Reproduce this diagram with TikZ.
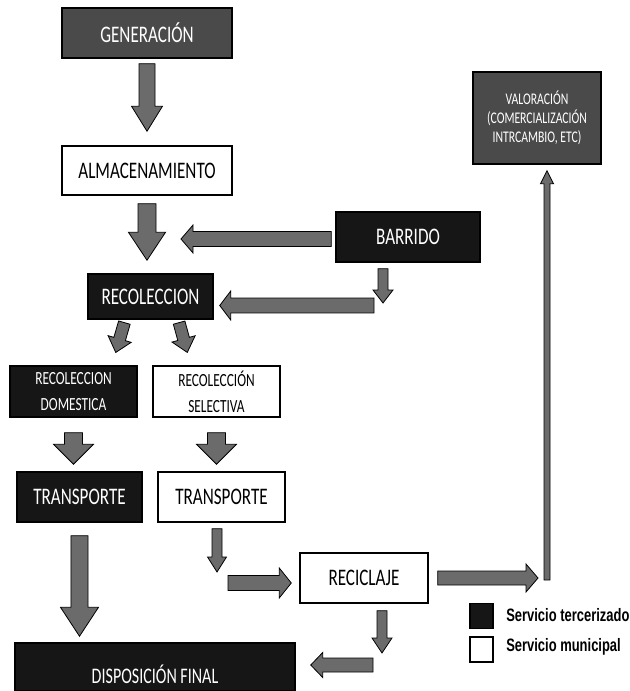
\documentclass[tikz,border=0pt]{standalone}
\usepackage{fontspec}
\setmainfont{Carlito}[FakeStretch=0.72]
\newfontfamily\legendfont{Liberation Sans}[FakeStretch=0.72]
\usetikzlibrary{calc}

\definecolor{boxgrey}{HTML}{4A4A4A}
\definecolor{boxdark}{HTML}{161616}
\definecolor{arrowgrey}{HTML}{6B6B6B}

\tikzset{
  stagebox/.style={draw=black, line width=1.1pt, inner sep=0pt, align=center, font=\fontsize{17.8pt}{21pt}\selectfont},
  darkbox/.style={stagebox, fill=boxdark, text=white},
  greybox/.style={stagebox, fill=boxgrey, text=white},
  lightbox/.style={stagebox, fill=white, text=black},
  arrowbody/.style={draw=black, line width=0.6pt, fill=arrowgrey},
  aw/.store in=\arrw, ah/.store in=\arrh, al/.store in=\arrl,
  ags/.store in=\arrgs, age/.store in=\arrge,
  aw=6pt, ah=12pt, al=12pt, ags=0pt, age=0pt
}

% block arrow between two points: [aw=half shaft, ah=half head, al=head length, ags/age=gaps]
\newcommand{\blockarrow}[3][]{%
  \begin{scope}[#1]
    \coordinate (bas) at ($(#2)!\arrgs!(#3)$);
    \coordinate (bat) at ($(#3)!\arrge!(#2)$);
    \filldraw[arrowbody] ($(bas)!\arrw!90:(bat)$)
      -- ($(bat)!\arrl!(bas)!\arrw!90:(bat)$)
      -- ($(bat)!\arrl!(bas)!\arrh!90:(bat)$)
      -- (bat)
      -- ($(bat)!\arrl!(bas)!\arrh!-90:(bat)$)
      -- ($(bat)!\arrl!(bas)!\arrw!-90:(bat)$)
      -- ($(bas)!\arrw!-90:(bat)$) -- cycle;
  \end{scope}}

\begin{document}
\begin{tikzpicture}[x=0.75pt,y=0.75pt,yscale=-1,xscale=1]
\useasboundingbox (0,0) rectangle (630,691);
\clip (0,0) rectangle (630,691);

%Shape: Rectangle [generacion]
\node[greybox, minimum width=127.5pt, minimum height=37.5pt] (gen) at (147,33) {GENERACIÓN};
%Shape: Rectangle [almacenamiento]
\node[lightbox, minimum width=127.5pt, minimum height=36.75pt] (alm) at (147,170.5) {ALMACENAMIENTO};
%Shape: Rectangle [barrido]
\node[darkbox, minimum width=108pt, minimum height=37.5pt] (barr) at (408,237) {BARRIDO};
%Shape: Rectangle [recoleccion]
\node[darkbox, minimum width=93.75pt, minimum height=33.75pt] (recol) at (150.5,296.5) {RECOLECCION};
%Shape: Rectangle [domestica]
\node[darkbox, minimum width=95.25pt, minimum height=38.25pt, font=\fontsize{13.9pt}{19.5pt}\selectfont] (dom) at (73.5,391.5) {RECOLECCION\\DOMESTICA};
%Shape: Rectangle [selectiva]
\node[lightbox, minimum width=95.25pt, minimum height=38.25pt, font=\fontsize{13.9pt}{19.5pt}\selectfont] (sel) at (216.5,391.5) {RECOLECCIÓN\\SELECTIVA};
%Shape: Rectangle [transporte]
\node[darkbox, minimum width=93.75pt, minimum height=37.5pt] (trdark) at (79.5,497) {TRANSPORTE};
\node[lightbox, minimum width=95.25pt, minimum height=37.5pt] (trlight) at (221.5,497) {TRANSPORTE};
%Shape: Rectangle [reciclaje]
\node[lightbox, minimum width=96pt, minimum height=37.5pt] (reci) at (364,578) {RECICLAJE};
%Shape: Rectangle [valoracion]
\node[greybox, minimum width=96pt, minimum height=69pt, font=\fontsize{12.2pt}{14.25pt}\selectfont] (val) at (537,118) {VALORACIÓN\\(COMERCIALIZACIÓN\\INTRCAMBIO, ETC)};
%Shape: Rectangle [disposicion]
\node[darkbox, minimum width=210pt, minimum height=36pt, font=\fontsize{16.7pt}{19pt}\selectfont] (disp) at (155,667) {\raisebox{-12.5pt}[0pt][0pt]{DISPOSICIÓN FINAL}};

% free ends of the arrows
\coordinate (sweepend) at (181,239);
\coordinate (bdrop) at (383,303);
\coordinate (bturn) at (374,305.5);
\coordinate (trdrop) at (217,572);
\coordinate (reciin) at (228,583);
\coordinate (valcorner) at (547,580);
\coordinate (recidrop) at (382,653);
\coordinate (dispin) at (373,665);

%Block Arrows
\blockarrow[aw=6pt, ah=11.6pt, al=18.75pt, ags=3.75pt, age=10.5pt]{gen.south}{alm.north}
\blockarrow[aw=6.75pt, ah=13.9pt, al=21pt, ags=6pt, age=9.75pt]{alm.south}{alm.south |- recol.north}
\blockarrow[aw=5.6pt, ah=10.5pt, al=9pt, ags=3pt]{barr.west |- sweepend}{sweepend}
\blockarrow[aw=3.75pt, ah=7.5pt, al=9.75pt, ags=4.5pt]{bdrop |- barr.south}{bdrop}
\blockarrow[aw=5.6pt, ah=10.9pt, al=8.25pt, age=4.5pt]{bturn}{recol.east |- bturn}
\blockarrow[aw=4.5pt, ah=9pt, al=10.5pt, ags=2.25pt, age=10pt]{$(recol.south west)!0.3!(recol.south east)$}{$(dom.north west)!0.8!(dom.north east)$}
\blockarrow[aw=4.5pt, ah=9pt, al=10.5pt, ags=2.25pt, age=10pt]{$(recol.south west)!0.72!(recol.south east)$}{$(sel.north west)!0.3!(sel.north east)$}
\blockarrow[aw=6.75pt, ah=15pt, al=15pt, ags=11.25pt, age=5.25pt]{dom.south}{dom.south |- trdark.north}
\blockarrow[aw=6.75pt, ah=15pt, al=15pt, ags=11.25pt, age=5.25pt]{sel.south}{sel.south |- trlight.north}
\blockarrow[aw=6.4pt, ah=14.25pt, al=21.75pt, ags=9.75pt, age=4.5pt]{trdark.south}{trdark.south |- disp.north}
\blockarrow[aw=3.75pt, ah=7.1pt, al=11.25pt, ags=4.5pt]{trdrop |- trlight.south}{trdrop}
\blockarrow[aw=5.6pt, ah=11.25pt, al=9pt, age=6pt]{reciin}{reci.west |- reciin}
\blockarrow[aw=5.25pt, ah=10.5pt, al=9pt, ags=6.75pt, age=6.75pt]{reci.east}{valcorner |- reci.east}
\blockarrow[aw=2.25pt, ah=4.9pt, al=9.75pt, age=4.5pt]{valcorner}{valcorner |- val.south}
\blockarrow[aw=3.75pt, ah=7.5pt, al=11.25pt, ags=5.25pt]{recidrop |- reci.south}{recidrop}
\blockarrow[aw=5.25pt, ah=9.4pt, al=9pt, age=11.25pt]{dispin}{disp.east |- dispin}

% Legend
\node[draw=black, line width=1pt, fill=boxdark, minimum width=17.25pt, minimum height=18.75pt, inner sep=0pt] (keydark) at (481.5,616) {};
\node[draw=black, line width=1pt, fill=white, minimum width=17.25pt, minimum height=18.75pt, inner sep=0pt] (keylight) at (481.5,649.5) {};
\node[anchor=west, inner sep=0pt, font=\legendfont\bfseries\fontsize{13.5pt}{16pt}\selectfont] (keydarktext) at (506,615) {Servicio tercerizado};
\node[anchor=west, inner sep=0pt, font=\legendfont\bfseries\fontsize{13.5pt}{16pt}\selectfont] (keylighttext) at (506,647) {Servicio municipal};

\end{tikzpicture}
\end{document}
